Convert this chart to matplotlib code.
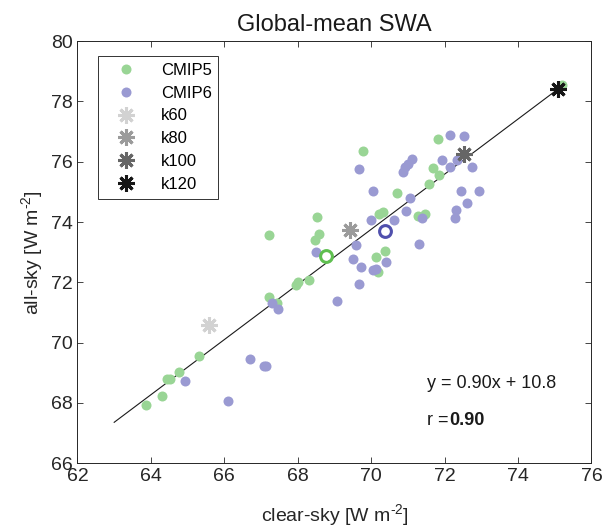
import numpy as np
import matplotlib
matplotlib.use('Agg')
import matplotlib.pyplot as plt

plt.rcParams['font.family'] = ['Liberation Sans', 'DejaVu Sans']
plt.rcParams['mathtext.fontset'] = 'custom'
plt.rcParams['mathtext.rm'] = 'Liberation Sans'
plt.rcParams['mathtext.it'] = 'Liberation Sans:italic'
plt.rcParams['mathtext.bf'] = 'Liberation Sans:bold'

# CMIP5 models (clear-sky, all-sky)
cmip5_x = [69.77, 71.82, 71.68, 71.86, 71.57, 70.70, 70.20, 70.32, 71.27, 71.47,
           68.53, 68.58, 68.46, 70.14, 70.37, 70.19, 67.23, 68.00, 67.94, 68.30,
           67.21, 67.44, 65.32, 64.76, 64.51, 64.43, 64.30, 63.87, 75.21]
cmip5_y = [76.34, 76.75, 75.79, 75.56, 75.26, 74.96, 74.26, 74.34, 74.20, 74.27,
           74.16, 73.60, 73.40, 72.85, 73.04, 72.34, 73.58, 72.02, 71.91, 72.07,
           71.50, 71.32, 69.57, 69.02, 68.79, 68.78, 68.22, 67.93, 78.54]

# CMIP6 models
cmip6_x = [69.68, 72.16, 72.54, 71.94, 71.12, 71.00, 70.91, 70.86, 72.14, 72.34,
           72.75, 70.04, 72.45, 72.95, 71.05, 72.32, 72.61, 72.27, 70.94, 71.38,
           69.99, 70.61, 68.50, 69.59, 71.30, 69.50, 69.71, 70.40, 70.05, 70.12,
           69.68, 69.07, 67.29, 67.47, 66.69, 67.14, 67.07, 66.10, 64.93]
cmip6_y = [75.75, 76.89, 76.84, 76.05, 76.08, 75.92, 75.83, 75.66, 75.81, 76.05,
           75.84, 75.02, 75.03, 75.02, 74.80, 74.41, 74.62, 74.13, 74.36, 74.13,
           74.06, 74.06, 72.99, 73.23, 73.28, 72.77, 72.52, 72.66, 72.41, 72.44,
           71.93, 71.38, 71.30, 71.11, 69.46, 69.23, 69.24, 68.07, 68.72]

# ensemble means
mean5 = (68.78, 72.87)
mean6 = (70.37, 73.70)

# k-runs
k_names = ['k60', 'k80', 'k100', 'k120']
k_x = [65.57, 69.41, 72.52, 75.08]
k_y = [70.58, 73.73, 76.27, 78.40]
k_colors = ['#d2d2d2', '#9b9b9b', '#666666', '#161616']

# regression line
fit_x = [63.0, 75.08]
fit_y = [67.36, 78.40]

fig = plt.figure(figsize=(6.11, 5.32), dpi=100)
ax = fig.add_axes([0.1268, 0.1291, 0.8412, 0.7938])

green = '#99d595'
blue = '#9a9ad2'

ax.plot(fit_x, fit_y, color='#1a1a1a', lw=0.8, zorder=1)
ax.plot(cmip5_x, cmip5_y, 'o', color=green, ms=7.2, mec='none', label='CMIP5', zorder=2)
ax.plot(cmip6_x, cmip6_y, 'o', color=blue, ms=7.2, mec='none', label='CMIP6', zorder=2)
ax.plot(*mean5, 'o', mfc='none', mec='#5fbf50', mew=2.2, ms=8.5, zorder=3)
ax.plot(*mean6, 'o', mfc='none', mec='#5050ad', mew=2.2, ms=8.5, zorder=3)
for n, x, y, c in zip(k_names, k_x, k_y, k_colors):
    ax.plot(x, y, marker=(8, 2, 0), color=c, mec=c, mew=2.2, ms=12, ls='none', label=n, zorder=4)

ax.set_xlim(62, 76)
ax.set_ylim(66, 80)
ax.set_xticks(np.arange(62, 77, 2))
ax.set_yticks(np.arange(66, 81, 2))
ax.tick_params(direction='in', top=True, right=True, labelsize=14, colors='#262626',
               length=4, width=0.6)
for s in ax.spines.values():
    s.set_color('#262626')
    s.set_linewidth(0.7)

ax.set_xlabel(r'clear-sky [W m$^{\text{-}2}$]', fontsize=14, color='#262626', labelpad=12)
ax.set_ylabel(r'all-sky [W m$^{\text{-}2}$]', fontsize=14, color='#262626')
ax.set_title('Global-mean SWA', fontsize=17, color='#1a1a1a', pad=7)

leg = ax.legend(loc='upper left', bbox_to_anchor=(0.039, 0.9645), borderaxespad=0,
                fontsize=12, fancybox=False, edgecolor='#333333', framealpha=1,
                labelspacing=0.47, handlelength=2.6, handletextpad=0.8,
                borderpad=0.4, numpoints=1)
leg.get_frame().set_linewidth(0.7)

ax.text(71.53, 68.66, 'y = 0.90x + 10.8', fontsize=13, va='center', color='#1a1a1a')
t = ax.text(71.53, 67.41, 'r =', fontsize=13, va='center', color='#1a1a1a')
ax.annotate('0.90', xy=(1, 0.5), xycoords=t, va='center', fontsize=13,
            fontweight='bold', color='#1a1a1a')

fig.savefig('out.png', dpi=100)
